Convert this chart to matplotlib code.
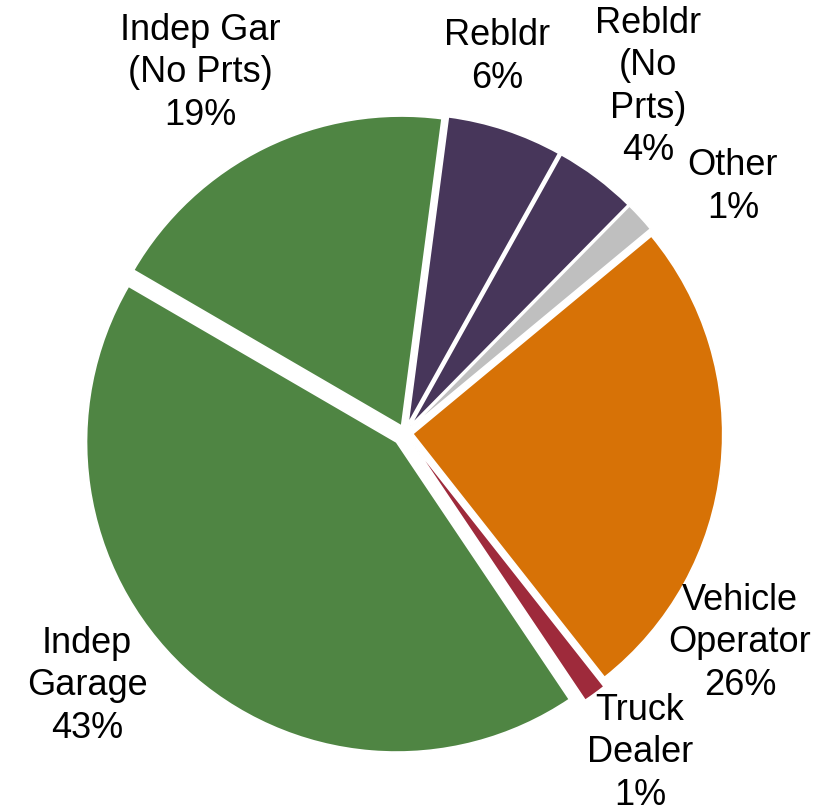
import matplotlib
matplotlib.use("Agg")
import matplotlib.pyplot as plt

categories = ["Rebldr", "Rebldr\n(No\nPrts)", "Other", "Vehicle\nOperator",
              "Truck\nDealer", "Indep\nGarage", "Indep Gar\n(No Prts)"]
values = [6.0, 4.3, 1.6, 25.4, 1.2, 42.8, 18.7]
pct_labels = ["6%", "4%", "1%", "26%", "1%", "43%", "19%"]
colors = ["#47365A", "#47365A", "#BFBFBF", "#D77206", "#9E2A3B", "#4F8543", "#4F8543"]
explode = [0.03, 0.03, 0.03, 0.025, 0.04, 0.04, 0.025]

# label centers (pixels) - layout only
label_px = [(497, 57), (648, 87), (733, 187), (740, 643), (640, 753), (87, 686), (200, 73)]

plt.rcParams['font.family'] = ['Liberation Sans', 'DejaVu Sans']

W, H = 828, 812
fig = plt.figure(figsize=(W / 100, H / 100), dpi=100)
cx, cy, R = 405, 434, 310
ax = fig.add_axes([(cx - R) / W, (H - cy - R) / H, 2 * R / W, 2 * R / H])
ax.pie(values, colors=colors, explode=explode, startangle=82.5, counterclock=False,
       radius=1.0, wedgeprops=dict(edgecolor="white", linewidth=1.2))
ax.set_xlim(-1, 1)
ax.set_ylim(-1, 1)
ax.set_aspect("equal")
ax.axis("off")

for cat, pct, (px, py) in zip(categories, pct_labels, label_px):
    ax.text((px - cx) / R, (cy - py) / R, f"{cat}\n{pct}", ha="center", va="center",
            fontsize=26, color="black", linespacing=1.28, clip_on=False)

fig.savefig("out.png", dpi=100, facecolor="white")
